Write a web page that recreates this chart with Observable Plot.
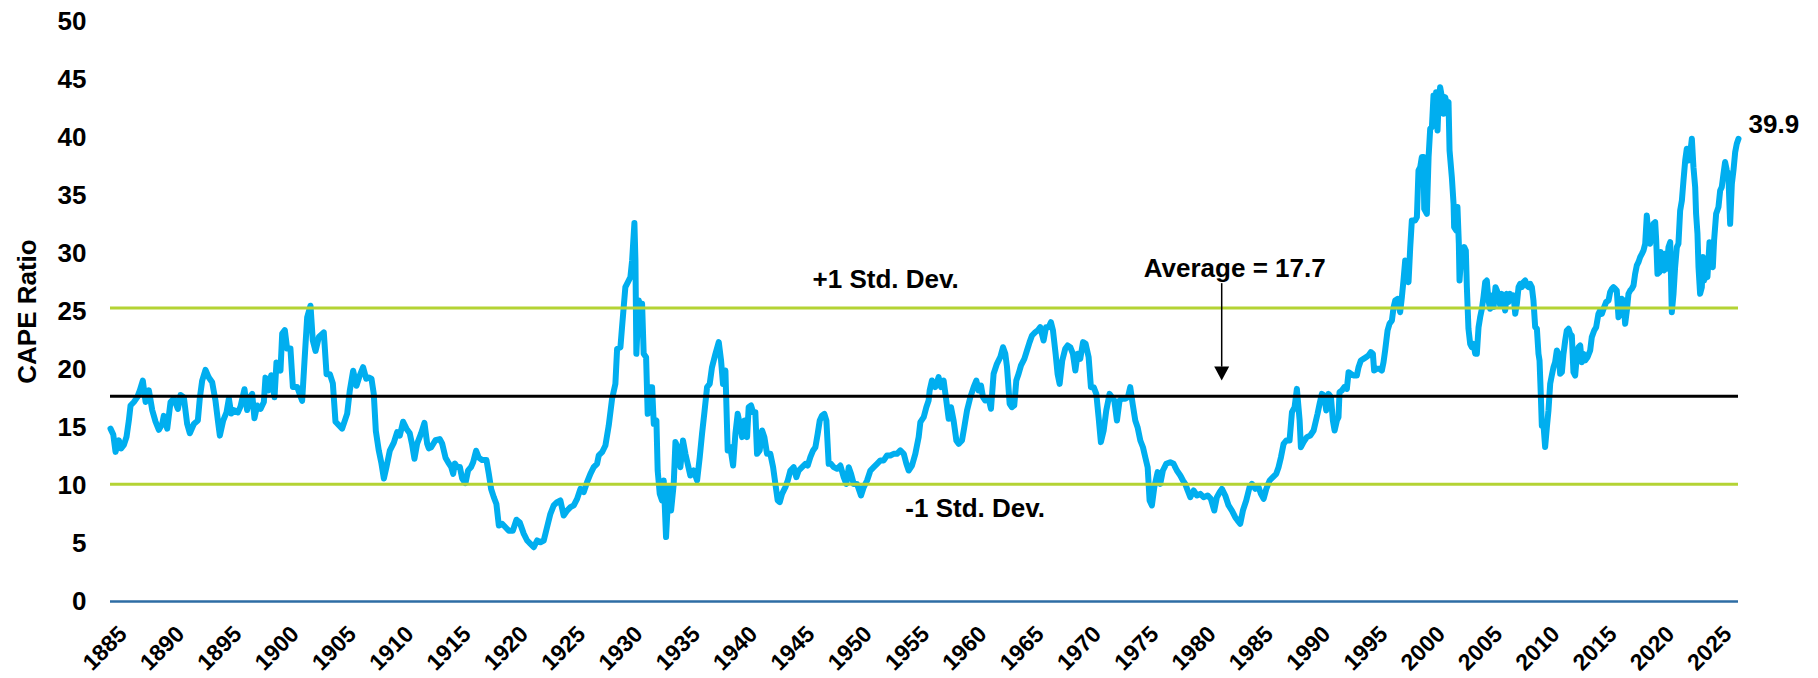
<!DOCTYPE html>
<html><head><meta charset="utf-8">
<script src="https://cdn.jsdelivr.net/npm/d3@7"></script>
<script src="https://cdn.jsdelivr.net/npm/@observablehq/plot@0.6"></script>
<style>html,body{margin:0;padding:0;background:#fff;} #chart svg{display:block;}</style>
</head><body><div id="chart"></div>
<script>
// Time (decimal years) and CAPE ratio values
const years = [
1884.05,1884.29,1884.49,1884.78,1884.98,1885.22,1885.45,1885.65,1885.80,1886.09,1886.38,1886.61,1886.87,1887.11,1887.40,1887.69,1887.98,1888.27,1888.56,1888.70,
1889.00,1889.29,1889.58,1889.93,1890.16,1890.45,1890.74,1890.97,1891.32,1891.67,1891.85,1892.05,1892.34,1892.63,1892.92,1893.21,1893.42,1893.59,1893.88,1894.17,
1894.38,1894.58,1894.81,1895.16,1895.39,1895.74,1895.97,1896.21,1896.41,1896.61,1896.85,1897.14,1897.43,1897.57,1897.86,1898.07,1898.36,1898.53,1898.88,1899.03,
1899.26,1899.46,1899.75,1899.96,1900.34,1900.77,1900.98,1901.21,1901.50,1901.70,1901.94,1902.23,1902.66,1902.90,1903.19,1903.45,1903.68,1903.97,1904.26,1904.70,
1904.93,1905.22,1905.51,1905.80,1906.09,1906.36,1906.59,1906.82,1907.02,1907.20,1907.46,1907.69,1907.90,1908.13,1908.42,1908.77,1909.06,1909.29,1909.58,1909.87,
1910.16,1910.37,1910.57,1910.80,1911.15,1911.44,1911.68,1911.82,1912.03,1912.40,1912.78,1912.99,1913.28,1913.51,1913.77,1913.95,1914.09,1914.29,1914.53,1914.73,
1915.02,1915.25,1915.51,1915.69,1915.95,1916.18,1916.47,1916.85,1917.06,1917.26,1917.49,1917.72,1917.93,1918.22,1918.51,1918.80,1919.15,1919.47,1919.76,
1920.11,1920.40,1920.69,1920.98,1921.27,1921.56,1921.85,1922.14,1922.43,1922.72,1923.01,1923.30,1923.59,1923.89,1924.18,1924.47,1924.76,1925.05,1925.34,1925.63,
1925.92,1926.21,1926.50,1926.65,1926.94,1927.23,1927.52,1927.81,1928.10,1928.25,1928.54,1928.68,1928.97,1929.26,1929.41,1929.56,1929.76,1929.85,1929.93,1930.14,
1930.28,1930.43,1930.57,1930.78,1930.92,1931.10,1931.30,1931.45,1931.68,1931.79,1931.97,1932.17,1932.32,1932.52,1932.75,1932.96,1933.19,1933.34,1933.54,1933.77,
1934.00,1934.21,1934.41,1934.64,1934.93,1935.23,1935.46,1935.66,1935.87,1936.10,1936.33,1936.53,1936.83,1937.12,1937.32,1937.49,1937.70,1937.90,1938.13,1938.37,
1938.57,1938.77,1939.01,1939.15,1939.36,1939.59,1939.73,1939.94,1940.11,1940.31,1940.46,1940.69,1940.90,1941.10,1941.33,1941.62,1941.86,1942.06,1942.26,1942.44,
1942.64,1942.93,1943.14,1943.37,1943.66,1943.89,1944.09,1944.39,1944.68,1944.88,1945.11,1945.35,1945.55,1945.75,1945.93,1946.13,1946.33,1946.51,1946.71,1946.91,
1947.15,1947.44,1947.73,1948.02,1948.25,1948.46,1948.66,1948.89,1949.18,1949.53,1949.77,1950.06,1950.35,1950.64,1950.93,1951.22,1951.51,1951.80,1952.09,1952.38,
1952.67,1952.96,1953.26,1953.49,1953.69,1953.98,1954.27,1954.56,1954.71,
1955.00,1955.23,1955.43,1955.52,1955.72,1956.01,1956.30,1956.51,1956.74,1956.97,1957.18,1957.38,1957.61,1957.85,1958.05,1958.34,1958.54,1958.78,1959.07,1959.36,
1959.59,1959.79,1960.00,1960.17,1960.37,1960.67,1960.87,1961.10,1961.39,1961.68,1961.92,1962.12,1962.27,1962.50,1962.70,1962.90,1963.08,1963.28,1963.49,1963.78,
1964.01,1964.24,1964.45,1964.74,1964.94,1965.17,1965.46,1965.67,1965.90,1966.10,1966.28,1966.51,1966.68,1966.86,1967.09,1967.35,1967.56,1967.79,1968.02,1968.23,
1968.43,1968.66,1968.90,1969.13,1969.39,1969.59,1969.83,1970.06,1970.26,1970.46,1970.70,1970.93,1971.22,1971.42,1971.63,1971.86,1972.09,1972.30,1972.59,1972.82,
1973.02,1973.23,1973.46,1973.66,1973.90,1974.13,1974.33,1974.54,1974.71,1974.91,1975.12,1975.41,1975.64,1975.87,1976.16,1976.51,1976.80,1977.09,1977.39,1977.62,
1977.82,1978.03,1978.26,1978.55,1978.84,1979.13,1979.42,1979.77,1980.06,1980.35,1980.58,1980.82,1981.02,1981.31,1981.60,1981.89,1982.18,1982.39,1982.62,1982.85,
1983.14,1983.43,1983.64,1983.93,1984.22,1984.42,1984.66,1984.89,1985.18,1985.47,1985.76,1985.96,1986.17,1986.40,1986.63,1986.92,1987.13,1987.36,1987.56,1987.80,
1987.91,1988.14,1988.43,1988.73,1989.02,
1989.36,1989.54,1989.74,1989.94,1990.12,1990.32,1990.53,1990.70,1990.85,1991.05,1991.19,1991.28,1991.48,1991.69,1991.92,1992.07,1992.27,1992.50,1992.79,1992.94,
1993.14,1993.37,1993.61,1993.81,1994.01,1994.19,1994.30,1994.54,1994.77,1994.97,1995.12,1995.26,1995.47,1995.64,1995.85,1996.00,1996.14,1996.34,1996.57,1996.72,
1996.86,1997.01,1997.16,1997.30,1997.45,1997.59,1997.88,1998.03,1998.17,1998.32,1998.46,1998.61,1998.67,1998.90,1999.05,1999.19,1999.34,1999.48,1999.63,1999.71,
1999.83,1999.92,2000.06,2000.21,2000.35,2000.50,2000.64,2000.79,2000.88,2001.08,2001.23,2001.28,2001.46,2001.57,2001.69,2001.75,2001.87,2002.01,2002.16,2002.30,
2002.39,2002.53,2002.68,2002.82,2002.97,2003.12,2003.26,2003.41,2003.55,2003.70,2003.84,2003.99,2004.13,2004.28,2004.42,2004.57,2004.72,2004.89,2005.01,2005.15,
2005.30,2005.44,2005.59,2005.73,2005.88,2006.02,2006.17,2006.31,2006.46,2006.61,2006.75,2006.90,2007.04,2007.19,2007.33,2007.48,2007.62,2007.77,2007.91,2008.06,
2008.20,2008.35,2008.50,2008.64,2008.73,2008.84,2008.93,2009.08,2009.22,2009.37,2009.51,2009.66,2009.80,2009.95,2010.09,2010.24,2010.39,2010.53,2010.68,2010.82,
2010.97,2011.11,2011.26,2011.40,2011.55,2011.69,2011.84,2011.99,2012.13,2012.28,2012.42,2012.57,2012.71,2012.92,2013.15,2013.29,2013.50,2013.67,2013.87,2014.02,
2014.17,2014.37,2014.54,2014.75,2014.89,2015.04,2015.18,2015.33,2015.47,2015.62,2015.77,2015.91,2016.06,2016.20,2016.35,2016.49,2016.64,2016.78,2016.93,2017.07,
2017.22,2017.36,2017.51,2017.66,2017.80,2017.95,2018.09,2018.24,2018.38,2018.53,2018.67,2018.82,2018.91,2019.02,2019.20,2019.31,2019.49,2019.60,2019.69,2019.84,
2019.98,2020.13,2020.27,2020.42,2020.56,2020.71,2020.85,2021.00,2021.15,2021.29,2021.44,2021.58,2021.73,2021.87,2022.02,2022.16,2022.31,2022.39,2022.51,2022.60,
2022.74,2022.89,2022.98,2023.09,2023.27,2023.38,2023.56,2023.67,2023.85,2023.96,2024.14,2024.34,2024.49,2024.63,2024.78,2024.92,2025.07,2025.21,2025.36,2025.51,
2025.65,2025.80,2025.94,2026.09
];
const cape = [
14.9,14.4,12.9,13.9,13.2,13.5,14.2,15.6,16.9,17.2,17.6,18.2,19.05,17.2,18.2,16.5,15.5,14.8,15.3,16.0,
14.9,17.2,17.5,16.6,17.8,17.6,15.3,14.5,15.3,15.6,17.6,19.05,19.97,19.3,18.9,17.3,15.6,14.3,15.6,16.3,
17.5,16.2,16.5,16.3,16.8,18.3,16.5,17.6,17.9,15.8,16.9,16.6,17.2,19.3,18.2,19.5,17.6,20.6,19.9,23.1,
23.4,21.8,21.8,18.5,18.5,17.3,20.8,24.5,25.5,22.5,21.6,22.8,23.2,19.6,19.6,18.8,15.5,15.2,14.9,16.2,
18.2,19.9,18.6,19.5,20.2,19.2,19.3,19.2,17.9,14.7,13.0,11.9,10.6,11.6,13.0,13.7,14.6,14.3,15.5,14.9,
14.5,13.5,12.3,13.6,14.5,15.4,13.6,13.2,13.3,13.9,14.0,13.6,12.4,12.0,11.6,11.0,11.9,11.6,11.6,10.6,
10.2,11.3,11.6,12.0,13.0,12.4,12.2,12.2,11.0,9.7,9.0,8.4,6.55,6.7,6.4,6.1,6.1,7.05,6.8,
5.83,5.26,4.97,4.68,5.26,5.11,5.26,6.41,7.56,8.28,8.57,8.71,7.41,7.84,8.13,8.28,8.85,9.71,9.43,10.29,
11.01,11.58,11.87,12.59,12.87,13.45,15.17,17.47,18.76,21.78,21.92,23.65,27.10,27.67,27.96,29.40,32.62,29.40,21.35,25.95,
23.07,25.66,21.35,21.06,16.18,18.48,18.48,15.32,15.60,11.29,9.28,8.71,10.43,5.55,9.86,7.84,10.14,13.74,13.30,11.58,
13.88,12.73,11.87,10.86,11.29,10.43,12.44,14.45,16.32,18.48,18.76,20.20,21.35,22.36,20.78,18.76,19.91,13.02,13.30,11.72,
14.45,16.18,15.03,14.17,15.60,14.17,16.75,16.90,16.32,16.32,12.73,13.02,14.74,14.17,12.73,12.73,11.58,10.14,8.71,8.57,
9.28,9.86,10.43,11.29,11.58,10.72,11.29,11.58,11.87,11.72,12.44,13.02,13.30,14.45,15.60,16.03,16.18,15.60,11.87,11.87,
11.58,11.44,11.72,10.72,10.14,11.58,11.01,10.14,10.14,9.14,9.86,10.43,11.29,11.58,11.87,12.16,12.16,12.59,12.59,12.73,
12.73,13.02,12.73,11.87,11.29,11.72,12.73,14.17,15.46,
15.89,16.75,17.33,18.19,19.05,18.48,19.34,18.48,19.05,17.33,15.75,16.75,15.60,13.88,13.59,13.88,15.03,16.47,17.62,18.48,
19.05,18.19,18.62,17.62,17.33,17.47,16.61,19.63,20.49,21.06,21.92,21.35,20.20,17.04,16.75,16.90,19.05,19.63,20.35,20.92,
21.64,22.36,22.93,23.22,23.36,23.65,22.50,23.65,23.65,24.08,23.36,21.35,19.63,18.76,20.78,21.78,22.07,21.92,21.35,19.91,
21.35,20.92,22.36,22.21,21.06,18.48,18.48,17.90,15.89,13.74,14.74,16.47,17.90,17.62,17.33,15.60,17.33,17.47,17.47,17.62,
18.48,17.04,15.60,15.03,13.88,13.30,12.44,11.58,8.71,8.28,9.86,11.15,10.14,11.29,11.87,12.01,11.87,11.29,10.86,10.43,
10.14,9.57,8.99,9.57,9.14,9.28,8.99,9.14,8.85,7.84,8.99,9.42,9.71,9.14,8.28,7.84,7.27,6.98,6.70,7.84,
8.71,9.86,10.14,9.71,9.86,9.28,8.85,9.71,10.43,10.72,11.01,11.58,12.44,13.59,13.88,13.88,16.32,16.75,18.33,15.60,
13.30,13.74,14.17,14.31,14.74,
16.18,17.04,17.90,17.76,16.47,17.90,17.62,15.60,14.74,15.60,15.89,18.05,18.19,18.48,18.33,19.77,19.63,19.48,19.48,20.20,
20.78,20.92,21.06,21.21,21.50,21.35,19.91,20.06,20.06,19.91,20.63,21.64,23.36,23.94,24.23,25.38,25.95,26.09,24.94,26.24,
27.67,29.40,29.11,27.53,30.55,32.85,32.85,33.13,37.16,37.44,38.31,38.31,33.85,33.42,38.31,40.75,40.89,43.62,42.33,43.91,
40.61,42.90,44.34,43.48,42.04,43.48,42.90,43.05,38.88,36.58,34.28,32.27,31.98,34.00,30.84,27.67,29.40,29.97,30.55,30.26,
27.10,23.51,22.21,21.93,22.21,21.35,21.35,23.65,24.51,25.23,26.24,27.53,27.67,25.95,25.23,26.38,25.38,27.10,26.81,26.38,
25.52,26.52,25.95,25.09,26.52,25.81,26.52,26.09,26.38,24.80,25.66,27.10,27.39,27.10,27.53,27.67,27.24,27.10,27.39,27.10,
25.95,23.65,23.51,21.35,20.78,17.90,15.17,15.17,13.31,15.03,16.47,18.77,19.48,20.20,20.63,21.64,21.35,19.63,19.77,21.35,
22.50,23.36,23.51,23.08,22.93,19.77,19.48,21.21,21.93,22.07,20.63,21.35,20.78,21.06,21.64,22.79,23.36,23.65,24.80,25.09,
24.80,25.38,25.81,25.95,26.67,26.96,27.10,26.96,26.81,24.51,24.80,26.09,25.95,23.94,25.09,26.52,26.81,26.96,27.24,28.25,
28.97,29.25,29.69,29.97,30.26,30.84,33.28,31.41,30.84,31.70,32.56,32.70,31.12,28.25,28.39,30.12,29.11,28.54,29.97,28.68,
30.55,30.98,24.94,26.52,28.82,30.55,30.84,33.71,34.57,36.29,38.02,39.03,38.02,38.60,39.89,37.44,35.72,33.42,31.70,28.82,
26.52,27.10,29.69,27.67,29.40,27.96,30.98,29.40,28.82,31.12,33.42,34.00,35.43,35.72,36.87,37.88,37.16,36.73,32.56,36.01,
37.16,38.74,39.46,39.89
];
const average = 17.7;
const plusSD = 25.3;
const minusSD = 10.1;
const yTicks = d3.range(0, 51, 5);
const xTicks = d3.range(1885, 2026, 5);

const data = years.map((t, i) => ({t, v: cape[i]}));
const last = data[data.length - 1];
const FONT = "'Liberation Sans', Arial, Helvetica, sans-serif";

const downTriangle = {
  draw(ctx) { ctx.moveTo(-7.5, -7); ctx.lineTo(7.5, -7); ctx.lineTo(0, 7); ctx.closePath(); }
};

const chart = Plot.plot({
  width: 1818, height: 678,
  marginLeft: 110, marginRight: 80, marginTop: 21, marginBottom: 77,
  x: {domain: [years[0], years[years.length - 1]], axis: null},
  y: {domain: [0, 50], axis: null},
  style: {fontFamily: FONT, background: "#fff", color: "#000"},
  marks: [
    Plot.axisY(yTicks, {tickSize: 0, tickPadding: 24, fontSize: 26, fontWeight: "bold", label: null}),
    Plot.text(xTicks, {x: d => d, y: 0, text: d => String(d), rotate: -45, textAnchor: "end", lineAnchor: "bottom",
      dx: 7, dy: 34, fontSize: 23, fontWeight: "bold", fill: "#000"}),
    Plot.text(["CAPE Ratio"], {text: d => d, frameAnchor: "left", dx: -75, rotate: -90, textAnchor: "middle",
      lineAnchor: "bottom", fontSize: 26, fontWeight: "bold", fill: "#000"}),
    Plot.line(data, {x: "t", y: "v", stroke: "#00AEEF", strokeWidth: 6, strokeLinejoin: "round", strokeLinecap: "round"}),
    Plot.ruleY([plusSD, minusSD], {stroke: "#B4D334", strokeWidth: 3}),
    Plot.ruleY([average], {stroke: "#000", strokeWidth: 3}),
    Plot.ruleY([0], {stroke: "#2E6DA4", strokeWidth: 2.5}),
    Plot.text(["+1 Std. Dev."], {text: d => d, x: 1945.3, y: plusSD, dy: -20.5, textAnchor: "start", lineAnchor: "bottom",
      fontSize: 26, fontWeight: "bold", fill: "#000"}),
    Plot.text(["-1 Std. Dev."], {text: d => d, x: 1953.4, y: minusSD, dy: 33, textAnchor: "start", lineAnchor: "bottom",
      fontSize: 26, fontWeight: "bold", fill: "#000"}),
    Plot.text([`Average = ${average}`], {text: d => d, x: 1974.2, y: 28.0, textAnchor: "start", lineAnchor: "bottom",
      fontSize: 26, fontWeight: "bold", fill: "#000"}),
    Plot.ruleX([1981.0], {y1: 27.4, y2: 20.2, stroke: "#000", strokeWidth: 1.5}),
    Plot.dot([1981.0], {x: d => d, y: 19.66, symbol: downTriangle, r: 6, fill: "#000", stroke: "none"}),
    Plot.text([last], {x: "t", y: "v", text: d => d.v.toFixed(1), dx: 10, dy: -6, textAnchor: "start", lineAnchor: "bottom",
      fontSize: 26, fontWeight: "bold", fill: "#000"})
  ]
});
document.getElementById("chart").appendChild(chart);
</script>
</body></html>
